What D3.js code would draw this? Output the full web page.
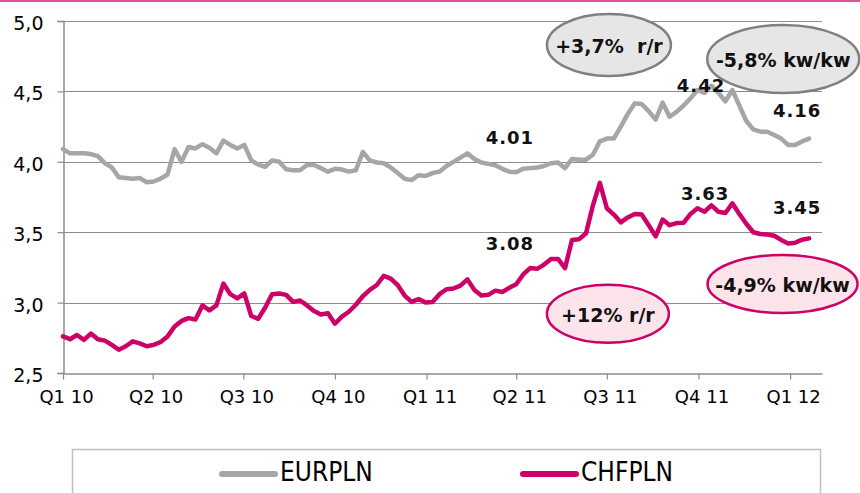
<!DOCTYPE html>
<html>
<head>
<meta charset="utf-8">
<script src="https://cdn.jsdelivr.net/npm/d3@7/dist/d3.min.js"></script>
<style>
  html, body { margin: 0; padding: 0; background: #fff; }
  svg { display: block; }
</style>
</head>
<body>
<svg id="chart" width="860" height="493"></svg>
<script>
// ---- data ----
const startDate = "2010-01-01";          // first weekly observation
const eurpln = [
  4.09, 4.06, 4.06, 4.06, 4.055, 4.04, 3.99, 3.96, 3.89, 3.885,
  3.88, 3.885, 3.855, 3.86, 3.88, 3.91, 4.09, 4.00, 4.105, 4.095,
  4.125, 4.10, 4.06, 4.15, 4.12, 4.095, 4.12, 4.01, 3.98, 3.965,
  4.01, 4.00, 3.947, 3.94, 3.94, 3.977, 3.977, 3.955, 3.93, 3.95,
  3.945, 3.93, 3.94, 4.07, 4.01, 3.995, 3.99, 3.96, 3.92, 3.88,
  3.87, 3.905, 3.90, 3.92, 3.93, 3.97, 4.00, 4.03, 4.06, 4.02,
  3.995, 3.985, 3.975, 3.95, 3.93, 3.925, 3.95, 3.955, 3.96, 3.97,
  3.99, 3.995, 3.955, 4.02, 4.015, 4.015, 4.05, 4.145, 4.165, 4.165,
  4.25, 4.34, 4.415, 4.41, 4.36, 4.30, 4.42, 4.32, 4.355, 4.40,
  4.45, 4.51, 4.49, 4.54, 4.49, 4.43, 4.51, 4.40, 4.29, 4.23,
  4.214, 4.214, 4.19, 4.165, 4.12, 4.12, 4.145, 4.165
];
const chfpln = [
  2.76, 2.74, 2.77, 2.735, 2.78, 2.74, 2.73, 2.70, 2.665, 2.69,
  2.725, 2.71, 2.69, 2.70, 2.72, 2.76, 2.83, 2.87, 2.89, 2.88,
  2.98, 2.945, 2.98, 3.135, 3.06, 3.03, 3.065, 2.905, 2.885, 2.965,
  3.06, 3.065, 3.055, 3.005, 3.015, 2.98, 2.94, 2.915, 2.925, 2.85,
  2.90, 2.935, 2.985, 3.045, 3.09, 3.125, 3.19, 3.17, 3.125, 3.05,
  3.005, 3.025, 3.00, 3.005, 3.06, 3.095, 3.10, 3.12, 3.165, 3.09,
  3.05, 3.055, 3.085, 3.075, 3.105, 3.13, 3.20, 3.245, 3.24, 3.27,
  3.31, 3.31, 3.245, 3.445, 3.45, 3.49, 3.69, 3.85, 3.67, 3.625,
  3.57, 3.605, 3.63, 3.625, 3.55, 3.47, 3.59, 3.55, 3.565, 3.567,
  3.63, 3.67, 3.645, 3.69, 3.645, 3.636, 3.705, 3.63, 3.56, 3.50,
  3.487, 3.483, 3.475, 3.445, 3.42, 3.425, 3.447, 3.456
];
const seriesNames = ["EURPLN", "CHFPLN"];
const tickDates = ["2010-01-01","2010-04-01","2010-07-01","2010-10-01","2011-01-01",
                   "2011-04-01","2011-07-01","2011-10-01","2012-01-01"];
const tickLabels = ["Q1 10","Q2 10","Q3 10","Q4 10","Q1 11","Q2 11","Q3 11","Q4 11","Q1 12"];
const yTicks = [2.5, 3.0, 3.5, 4.0, 4.5, 5.0];
// value labels: week index and value position
const valueLabels = [
  {text: "4.01", wk: 64.1, v: 4.176},
  {text: "3.08", wk: 64.1, v: 3.423},
  {text: "4.42", wk: 91.5, v: 4.545},
  {text: "4.16", wk: 105.3, v: 4.361},
  {text: "3.63", wk: 92.1, v: 3.778},
  {text: "3.45", wk: 105.3, v: 3.672}
];
const bubbles = [
  {text: "+3,7%  r/r",  wk: 78.3,  v: 4.830, series: 0},
  {text: "-5,8% kw/kw", wk: 103.3, v: 4.730, series: 0},
  {text: "+12% r/r",    wk: 78.15, v: 2.920, series: 1},
  {text: "-4,9% kw/kw", wk: 103.2, v: 3.132, series: 1}
];

// ---- styles ----
const colors = ["#a6a6a6", "#cc0066"];
const bubbleFill = ["#e6e6e6", "#fde4ea"];
const bubbleStroke = ["#808080", "#cc0066"];
const bubbleR = [[62, 31], [76, 34], [61, 29], [75, 29]];
const fontAxis = "'DejaVu Sans', Verdana, sans-serif";

const svg = d3.select("#chart");
const margin = {left: 63, right: 822, top: 21, bottom: 373};

const parse = d3.utcParse("%Y-%m-%d");
const t0 = parse(startDate);
const dateOf = wk => new Date(t0.getTime() + wk * 7 * 864e5);

const x = d3.scaleUtc()
  .domain([parse("2010-01-01"), parse("2012-02-02")])
  .range([margin.left, margin.right]);
const y = d3.scaleLinear().domain([2.5, 5.0]).range([margin.bottom, margin.top]);

// top pink rule
svg.append("line").attr("x1", 0).attr("x2", 860).attr("y1", 1).attr("y2", 1)
  .attr("stroke", "#e05596").attr("stroke-width", 2);

// gridlines
svg.append("g").selectAll("line").data(yTicks.filter(d => d > 2.5)).join("line")
  .attr("x1", margin.left).attr("x2", margin.right)
  .attr("y1", d => Math.round(y(d)) + 0.5).attr("y2", d => Math.round(y(d)) + 0.5)
  .attr("stroke", "#8c8c8c").attr("stroke-width", 1.2);

// y axis
const yAxis = d3.axisLeft(y).tickValues(yTicks)
  .tickFormat(d => d3.format(".1f")(d).replace(".", ","))
  .tickSize(6).tickPadding(14);
const gy = svg.append("g").attr("transform", `translate(${margin.left + 0.5},0)`).call(yAxis);
gy.select(".domain").attr("stroke", "#8c8c8c").attr("stroke-width", 1.5);
gy.selectAll(".tick line").attr("stroke", "#8c8c8c").attr("stroke-width", 1.2);
gy.selectAll(".tick text").attr("font-family", fontAxis).attr("font-size", 19)
  .attr("fill", "#000").attr("dy", "0.45em");

// x axis
const xAxis = d3.axisBottom(x).tickValues(tickDates.map(parse))
  .tickFormat((d, i) => tickLabels[i]).tickSize(6).tickSizeOuter(0).tickPadding(11);
const gx = svg.append("g").attr("transform", `translate(0,${margin.bottom + 0.5})`).call(xAxis);
gx.select(".domain").attr("stroke", "#8c8c8c").attr("stroke-width", 1.5);
gx.selectAll(".tick line").attr("stroke", "#8c8c8c").attr("stroke-width", 1.2);
gx.selectAll(".tick text").attr("font-family", fontAxis).attr("font-size", 18)
  .attr("fill", "#000").attr("dx", 3);

// lines
const line = d3.line().x((d, i) => x(dateOf(i))).y(d => y(d)).curve(d3.curveLinear);
[eurpln, chfpln].forEach((s, k) => {
  svg.append("path").datum(s).attr("d", line)
    .attr("fill", "none").attr("stroke", colors[k]).attr("stroke-width", 4.5)
    .attr("stroke-linejoin", "round").attr("stroke-linecap", "round");
});

// value labels
svg.append("g").selectAll("text").data(valueLabels).join("text")
  .attr("x", d => x(dateOf(d.wk))).attr("y", d => y(d.v))
  .attr("text-anchor", "middle").attr("dominant-baseline", "central")
  .attr("font-family", fontAxis).attr("font-weight", "bold").attr("font-size", 18)
  .attr("letter-spacing", 1).attr("fill", "#111")
  .text(d => d.text);

// bubbles
const gb = svg.append("g");
bubbles.forEach((b, i) => {
  const cx = x(dateOf(b.wk)), cy = y(b.v);
  gb.append("ellipse").attr("cx", cx).attr("cy", cy)
    .attr("rx", bubbleR[i][0]).attr("ry", bubbleR[i][1])
    .attr("fill", bubbleFill[b.series]).attr("stroke", bubbleStroke[b.series])
    .attr("stroke-width", 2.5);
  gb.append("text").attr("x", cx).attr("y", cy + 1)
    .attr("text-anchor", "middle").attr("dominant-baseline", "central")
    .attr("font-family", fontAxis).attr("font-weight", "bold").attr("font-size", 19)
    .attr("fill", "#111").attr("xml:space", "preserve").style("white-space", "pre")
    .text(b.text);
});

// legend
svg.append("path").attr("d", "M72.5,493 V449.5 H820.5 V493")
  .attr("fill", "none").attr("stroke", "#bfbfbf").attr("stroke-width", 1.5);
const legX = [222, 523];
seriesNames.forEach((n, k) => {
  svg.append("line").attr("x1", legX[k]).attr("x2", legX[k] + 53)
    .attr("y1", 474).attr("y2", 474)
    .attr("stroke", colors[k]).attr("stroke-width", 6).attr("stroke-linecap", "round");
  svg.append("text").attr("x", legX[k] + 58).attr("y", 472)
    .attr("dominant-baseline", "central")
    .attr("font-family", "'Liberation Sans Narrow', 'DejaVu Sans Condensed', sans-serif")
    .attr("font-size", 26).attr("fill", "#000")
    .text(n);
});
</script>
</body>
</html>
